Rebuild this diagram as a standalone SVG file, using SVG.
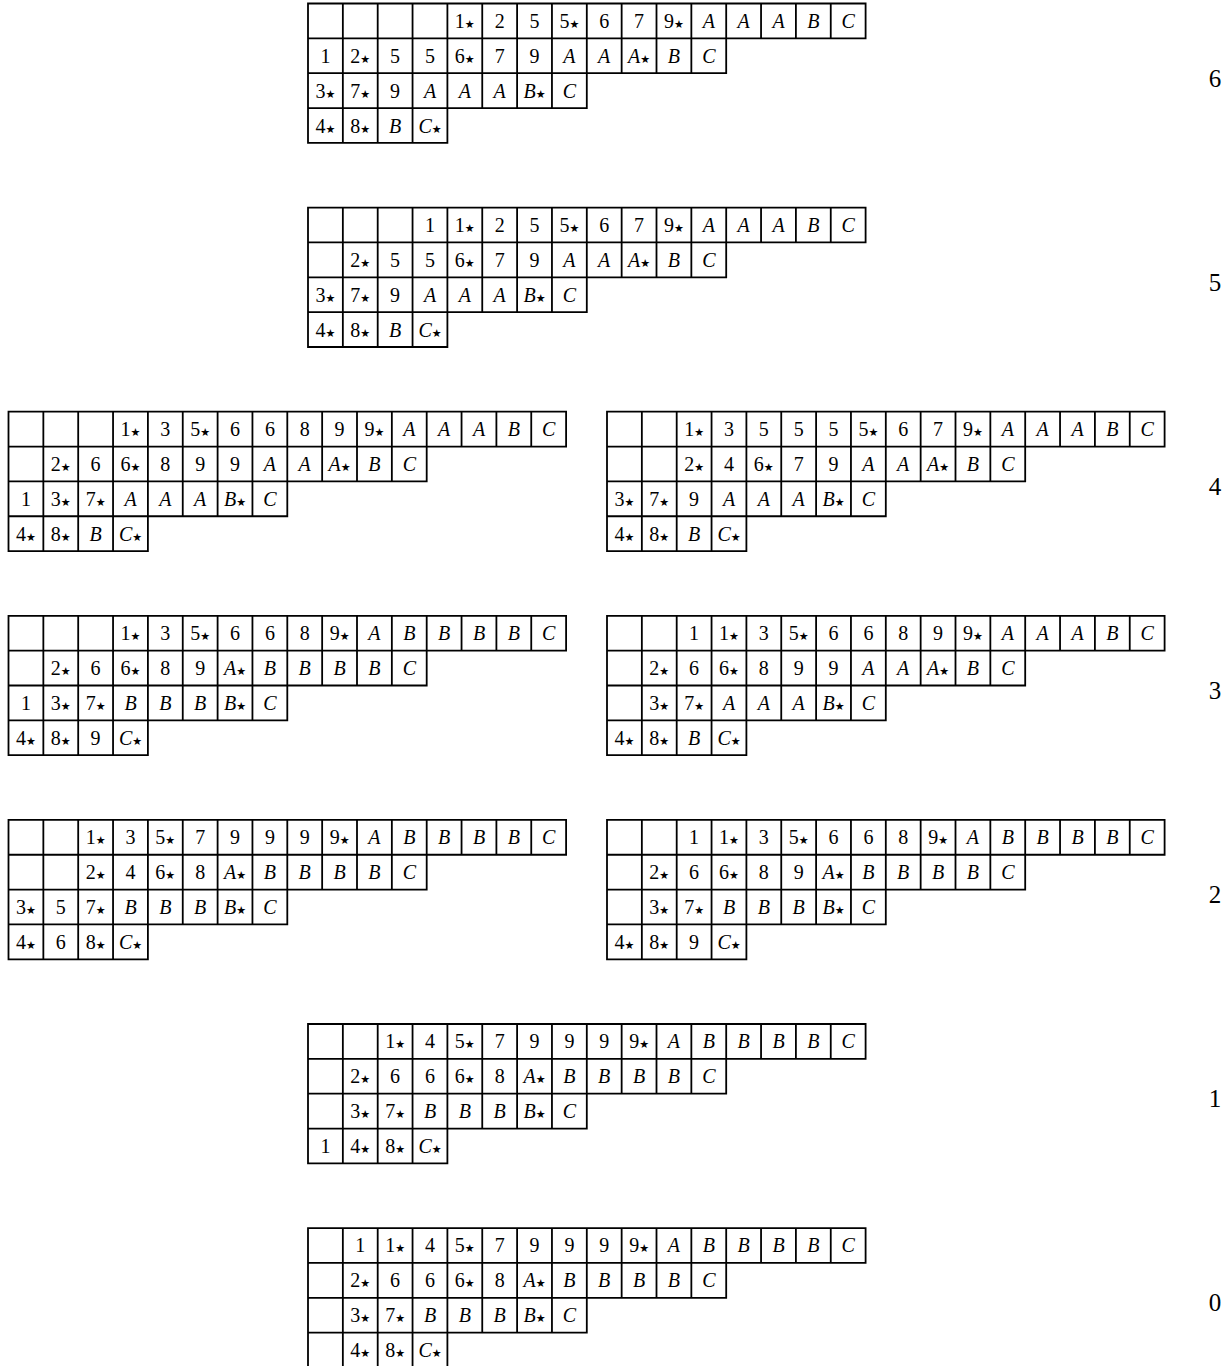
<svg xmlns="http://www.w3.org/2000/svg" xmlns:xlink="http://www.w3.org/1999/xlink" width="1232" height="1366" viewBox="0 0 1232 1366">
<style>
.g{fill:none;stroke:#000;stroke-width:1.8;stroke-linecap:square}
text{font-family:"Liberation Serif","DejaVu Serif",serif;font-size:20px;text-anchor:middle;fill:#000}
.i{font-style:italic}
.s{font-family:"DejaVu Sans",sans-serif;font-size:11px;font-style:normal}
.lab{font-size:25px}
</style>
<defs>
<path id="grid" class="g" d="M0,0H557.6M0,34.85H557.6M0,69.7H418.2M0,104.55H278.8M0,139.4H139.4M0,0V139.4M34.85,0V139.4M69.7,0V139.4M104.55,0V139.4M139.4,0V139.4M174.25,0V104.55M209.1,0V104.55M243.95,0V104.55M278.8,0V104.55M313.65,0V69.7M348.5,0V69.7M383.35,0V69.7M418.2,0V69.7M453.05,0V34.85M487.9,0V34.85M522.75,0V34.85M557.6,0V34.85"/>
</defs>
<rect width="1232" height="1366" fill="#fff"/>
<g id="connectors"></g>

<g id="t6" transform="translate(308,3.5)">
<use xlink:href="#grid"/>
<text x="156.8" y="24.4">1<tspan class="s">★</tspan></text><text x="191.7" y="24.4">2</text><text x="226.5" y="24.4">5</text><text x="261.4" y="24.4">5<tspan class="s">★</tspan></text><text x="296.2" y="24.4">6</text><text x="331.1" y="24.4">7</text><text x="365.9" y="24.4">9<tspan class="s">★</tspan></text><text class="i" x="400.8" y="24.4">A</text><text class="i" x="435.6" y="24.4">A</text><text class="i" x="470.5" y="24.4">A</text><text class="i" x="505.3" y="24.4">B</text><text class="i" x="540.2" y="24.4">C</text>
<text x="17.4" y="59.3">1</text><text x="52.3" y="59.3">2<tspan class="s">★</tspan></text><text x="87.1" y="59.3">5</text><text x="122" y="59.3">5</text><text x="156.8" y="59.3">6<tspan class="s">★</tspan></text><text x="191.7" y="59.3">7</text><text x="226.5" y="59.3">9</text><text class="i" x="261.4" y="59.3">A</text><text class="i" x="296.2" y="59.3">A</text><text class="i" x="331.1" y="59.3">A<tspan class="s">★</tspan></text><text class="i" x="365.9" y="59.3">B</text><text class="i" x="400.8" y="59.3">C</text>
<text x="17.4" y="94.1">3<tspan class="s">★</tspan></text><text x="52.3" y="94.1">7<tspan class="s">★</tspan></text><text x="87.1" y="94.1">9</text><text class="i" x="122" y="94.1">A</text><text class="i" x="156.8" y="94.1">A</text><text class="i" x="191.7" y="94.1">A</text><text class="i" x="226.5" y="94.1">B<tspan class="s">★</tspan></text><text class="i" x="261.4" y="94.1">C</text>
<text x="17.4" y="129">4<tspan class="s">★</tspan></text><text x="52.3" y="129">8<tspan class="s">★</tspan></text><text class="i" x="87.1" y="129">B</text><text class="i" x="122" y="129">C<tspan class="s">★</tspan></text>
</g>
<text class="lab" x="1215" y="86.5">6</text>

<g id="t5" transform="translate(308,207.6)">
<use xlink:href="#grid"/>
<text x="122" y="24.4">1</text><text x="156.8" y="24.4">1<tspan class="s">★</tspan></text><text x="191.7" y="24.4">2</text><text x="226.5" y="24.4">5</text><text x="261.4" y="24.4">5<tspan class="s">★</tspan></text><text x="296.2" y="24.4">6</text><text x="331.1" y="24.4">7</text><text x="365.9" y="24.4">9<tspan class="s">★</tspan></text><text class="i" x="400.8" y="24.4">A</text><text class="i" x="435.6" y="24.4">A</text><text class="i" x="470.5" y="24.4">A</text><text class="i" x="505.3" y="24.4">B</text><text class="i" x="540.2" y="24.4">C</text>
<text x="52.3" y="59.3">2<tspan class="s">★</tspan></text><text x="87.1" y="59.3">5</text><text x="122" y="59.3">5</text><text x="156.8" y="59.3">6<tspan class="s">★</tspan></text><text x="191.7" y="59.3">7</text><text x="226.5" y="59.3">9</text><text class="i" x="261.4" y="59.3">A</text><text class="i" x="296.2" y="59.3">A</text><text class="i" x="331.1" y="59.3">A<tspan class="s">★</tspan></text><text class="i" x="365.9" y="59.3">B</text><text class="i" x="400.8" y="59.3">C</text>
<text x="17.4" y="94.1">3<tspan class="s">★</tspan></text><text x="52.3" y="94.1">7<tspan class="s">★</tspan></text><text x="87.1" y="94.1">9</text><text class="i" x="122" y="94.1">A</text><text class="i" x="156.8" y="94.1">A</text><text class="i" x="191.7" y="94.1">A</text><text class="i" x="226.5" y="94.1">B<tspan class="s">★</tspan></text><text class="i" x="261.4" y="94.1">C</text>
<text x="17.4" y="129">4<tspan class="s">★</tspan></text><text x="52.3" y="129">8<tspan class="s">★</tspan></text><text class="i" x="87.1" y="129">B</text><text class="i" x="122" y="129">C<tspan class="s">★</tspan></text>
</g>
<text class="lab" x="1215" y="290.6">5</text>

<g id="t4a" transform="translate(8.5,411.7)">
<use xlink:href="#grid"/>
<text x="122" y="24.4">1<tspan class="s">★</tspan></text><text x="156.8" y="24.4">3</text><text x="191.7" y="24.4">5<tspan class="s">★</tspan></text><text x="226.5" y="24.4">6</text><text x="261.4" y="24.4">6</text><text x="296.2" y="24.4">8</text><text x="331.1" y="24.4">9</text><text x="365.9" y="24.4">9<tspan class="s">★</tspan></text><text class="i" x="400.8" y="24.4">A</text><text class="i" x="435.6" y="24.4">A</text><text class="i" x="470.5" y="24.4">A</text><text class="i" x="505.3" y="24.4">B</text><text class="i" x="540.2" y="24.4">C</text>
<text x="52.3" y="59.3">2<tspan class="s">★</tspan></text><text x="87.1" y="59.3">6</text><text x="122" y="59.3">6<tspan class="s">★</tspan></text><text x="156.8" y="59.3">8</text><text x="191.7" y="59.3">9</text><text x="226.5" y="59.3">9</text><text class="i" x="261.4" y="59.3">A</text><text class="i" x="296.2" y="59.3">A</text><text class="i" x="331.1" y="59.3">A<tspan class="s">★</tspan></text><text class="i" x="365.9" y="59.3">B</text><text class="i" x="400.8" y="59.3">C</text>
<text x="17.4" y="94.1">1</text><text x="52.3" y="94.1">3<tspan class="s">★</tspan></text><text x="87.1" y="94.1">7<tspan class="s">★</tspan></text><text class="i" x="122" y="94.1">A</text><text class="i" x="156.8" y="94.1">A</text><text class="i" x="191.7" y="94.1">A</text><text class="i" x="226.5" y="94.1">B<tspan class="s">★</tspan></text><text class="i" x="261.4" y="94.1">C</text>
<text x="17.4" y="129">4<tspan class="s">★</tspan></text><text x="52.3" y="129">8<tspan class="s">★</tspan></text><text class="i" x="87.1" y="129">B</text><text class="i" x="122" y="129">C<tspan class="s">★</tspan></text>
</g>

<g id="t4b" transform="translate(607,411.7)">
<use xlink:href="#grid"/>
<text x="87.1" y="24.4">1<tspan class="s">★</tspan></text><text x="122" y="24.4">3</text><text x="156.8" y="24.4">5</text><text x="191.7" y="24.4">5</text><text x="226.5" y="24.4">5</text><text x="261.4" y="24.4">5<tspan class="s">★</tspan></text><text x="296.2" y="24.4">6</text><text x="331.1" y="24.4">7</text><text x="365.9" y="24.4">9<tspan class="s">★</tspan></text><text class="i" x="400.8" y="24.4">A</text><text class="i" x="435.6" y="24.4">A</text><text class="i" x="470.5" y="24.4">A</text><text class="i" x="505.3" y="24.4">B</text><text class="i" x="540.2" y="24.4">C</text>
<text x="87.1" y="59.3">2<tspan class="s">★</tspan></text><text x="122" y="59.3">4</text><text x="156.8" y="59.3">6<tspan class="s">★</tspan></text><text x="191.7" y="59.3">7</text><text x="226.5" y="59.3">9</text><text class="i" x="261.4" y="59.3">A</text><text class="i" x="296.2" y="59.3">A</text><text class="i" x="331.1" y="59.3">A<tspan class="s">★</tspan></text><text class="i" x="365.9" y="59.3">B</text><text class="i" x="400.8" y="59.3">C</text>
<text x="17.4" y="94.1">3<tspan class="s">★</tspan></text><text x="52.3" y="94.1">7<tspan class="s">★</tspan></text><text x="87.1" y="94.1">9</text><text class="i" x="122" y="94.1">A</text><text class="i" x="156.8" y="94.1">A</text><text class="i" x="191.7" y="94.1">A</text><text class="i" x="226.5" y="94.1">B<tspan class="s">★</tspan></text><text class="i" x="261.4" y="94.1">C</text>
<text x="17.4" y="129">4<tspan class="s">★</tspan></text><text x="52.3" y="129">8<tspan class="s">★</tspan></text><text class="i" x="87.1" y="129">B</text><text class="i" x="122" y="129">C<tspan class="s">★</tspan></text>
</g>
<text class="lab" x="1215" y="494.7">4</text>

<g id="t3a" transform="translate(8.5,615.8)">
<use xlink:href="#grid"/>
<text x="122" y="24.4">1<tspan class="s">★</tspan></text><text x="156.8" y="24.4">3</text><text x="191.7" y="24.4">5<tspan class="s">★</tspan></text><text x="226.5" y="24.4">6</text><text x="261.4" y="24.4">6</text><text x="296.2" y="24.4">8</text><text x="331.1" y="24.4">9<tspan class="s">★</tspan></text><text class="i" x="365.9" y="24.4">A</text><text class="i" x="400.8" y="24.4">B</text><text class="i" x="435.6" y="24.4">B</text><text class="i" x="470.5" y="24.4">B</text><text class="i" x="505.3" y="24.4">B</text><text class="i" x="540.2" y="24.4">C</text>
<text x="52.3" y="59.3">2<tspan class="s">★</tspan></text><text x="87.1" y="59.3">6</text><text x="122" y="59.3">6<tspan class="s">★</tspan></text><text x="156.8" y="59.3">8</text><text x="191.7" y="59.3">9</text><text class="i" x="226.5" y="59.3">A<tspan class="s">★</tspan></text><text class="i" x="261.4" y="59.3">B</text><text class="i" x="296.2" y="59.3">B</text><text class="i" x="331.1" y="59.3">B</text><text class="i" x="365.9" y="59.3">B</text><text class="i" x="400.8" y="59.3">C</text>
<text x="17.4" y="94.1">1</text><text x="52.3" y="94.1">3<tspan class="s">★</tspan></text><text x="87.1" y="94.1">7<tspan class="s">★</tspan></text><text class="i" x="122" y="94.1">B</text><text class="i" x="156.8" y="94.1">B</text><text class="i" x="191.7" y="94.1">B</text><text class="i" x="226.5" y="94.1">B<tspan class="s">★</tspan></text><text class="i" x="261.4" y="94.1">C</text>
<text x="17.4" y="129">4<tspan class="s">★</tspan></text><text x="52.3" y="129">8<tspan class="s">★</tspan></text><text x="87.1" y="129">9</text><text class="i" x="122" y="129">C<tspan class="s">★</tspan></text>
</g>

<g id="t3b" transform="translate(607,615.8)">
<use xlink:href="#grid"/>
<text x="87.1" y="24.4">1</text><text x="122" y="24.4">1<tspan class="s">★</tspan></text><text x="156.8" y="24.4">3</text><text x="191.7" y="24.4">5<tspan class="s">★</tspan></text><text x="226.5" y="24.4">6</text><text x="261.4" y="24.4">6</text><text x="296.2" y="24.4">8</text><text x="331.1" y="24.4">9</text><text x="365.9" y="24.4">9<tspan class="s">★</tspan></text><text class="i" x="400.8" y="24.4">A</text><text class="i" x="435.6" y="24.4">A</text><text class="i" x="470.5" y="24.4">A</text><text class="i" x="505.3" y="24.4">B</text><text class="i" x="540.2" y="24.4">C</text>
<text x="52.3" y="59.3">2<tspan class="s">★</tspan></text><text x="87.1" y="59.3">6</text><text x="122" y="59.3">6<tspan class="s">★</tspan></text><text x="156.8" y="59.3">8</text><text x="191.7" y="59.3">9</text><text x="226.5" y="59.3">9</text><text class="i" x="261.4" y="59.3">A</text><text class="i" x="296.2" y="59.3">A</text><text class="i" x="331.1" y="59.3">A<tspan class="s">★</tspan></text><text class="i" x="365.9" y="59.3">B</text><text class="i" x="400.8" y="59.3">C</text>
<text x="52.3" y="94.1">3<tspan class="s">★</tspan></text><text x="87.1" y="94.1">7<tspan class="s">★</tspan></text><text class="i" x="122" y="94.1">A</text><text class="i" x="156.8" y="94.1">A</text><text class="i" x="191.7" y="94.1">A</text><text class="i" x="226.5" y="94.1">B<tspan class="s">★</tspan></text><text class="i" x="261.4" y="94.1">C</text>
<text x="17.4" y="129">4<tspan class="s">★</tspan></text><text x="52.3" y="129">8<tspan class="s">★</tspan></text><text class="i" x="87.1" y="129">B</text><text class="i" x="122" y="129">C<tspan class="s">★</tspan></text>
</g>
<text class="lab" x="1215" y="698.8">3</text>

<g id="t2a" transform="translate(8.5,819.9)">
<use xlink:href="#grid"/>
<text x="87.1" y="24.4">1<tspan class="s">★</tspan></text><text x="122" y="24.4">3</text><text x="156.8" y="24.4">5<tspan class="s">★</tspan></text><text x="191.7" y="24.4">7</text><text x="226.5" y="24.4">9</text><text x="261.4" y="24.4">9</text><text x="296.2" y="24.4">9</text><text x="331.1" y="24.4">9<tspan class="s">★</tspan></text><text class="i" x="365.9" y="24.4">A</text><text class="i" x="400.8" y="24.4">B</text><text class="i" x="435.6" y="24.4">B</text><text class="i" x="470.5" y="24.4">B</text><text class="i" x="505.3" y="24.4">B</text><text class="i" x="540.2" y="24.4">C</text>
<text x="87.1" y="59.3">2<tspan class="s">★</tspan></text><text x="122" y="59.3">4</text><text x="156.8" y="59.3">6<tspan class="s">★</tspan></text><text x="191.7" y="59.3">8</text><text class="i" x="226.5" y="59.3">A<tspan class="s">★</tspan></text><text class="i" x="261.4" y="59.3">B</text><text class="i" x="296.2" y="59.3">B</text><text class="i" x="331.1" y="59.3">B</text><text class="i" x="365.9" y="59.3">B</text><text class="i" x="400.8" y="59.3">C</text>
<text x="17.4" y="94.1">3<tspan class="s">★</tspan></text><text x="52.3" y="94.1">5</text><text x="87.1" y="94.1">7<tspan class="s">★</tspan></text><text class="i" x="122" y="94.1">B</text><text class="i" x="156.8" y="94.1">B</text><text class="i" x="191.7" y="94.1">B</text><text class="i" x="226.5" y="94.1">B<tspan class="s">★</tspan></text><text class="i" x="261.4" y="94.1">C</text>
<text x="17.4" y="129">4<tspan class="s">★</tspan></text><text x="52.3" y="129">6</text><text x="87.1" y="129">8<tspan class="s">★</tspan></text><text class="i" x="122" y="129">C<tspan class="s">★</tspan></text>
</g>

<g id="t2b" transform="translate(607,819.9)">
<use xlink:href="#grid"/>
<text x="87.1" y="24.4">1</text><text x="122" y="24.4">1<tspan class="s">★</tspan></text><text x="156.8" y="24.4">3</text><text x="191.7" y="24.4">5<tspan class="s">★</tspan></text><text x="226.5" y="24.4">6</text><text x="261.4" y="24.4">6</text><text x="296.2" y="24.4">8</text><text x="331.1" y="24.4">9<tspan class="s">★</tspan></text><text class="i" x="365.9" y="24.4">A</text><text class="i" x="400.8" y="24.4">B</text><text class="i" x="435.6" y="24.4">B</text><text class="i" x="470.5" y="24.4">B</text><text class="i" x="505.3" y="24.4">B</text><text class="i" x="540.2" y="24.4">C</text>
<text x="52.3" y="59.3">2<tspan class="s">★</tspan></text><text x="87.1" y="59.3">6</text><text x="122" y="59.3">6<tspan class="s">★</tspan></text><text x="156.8" y="59.3">8</text><text x="191.7" y="59.3">9</text><text class="i" x="226.5" y="59.3">A<tspan class="s">★</tspan></text><text class="i" x="261.4" y="59.3">B</text><text class="i" x="296.2" y="59.3">B</text><text class="i" x="331.1" y="59.3">B</text><text class="i" x="365.9" y="59.3">B</text><text class="i" x="400.8" y="59.3">C</text>
<text x="52.3" y="94.1">3<tspan class="s">★</tspan></text><text x="87.1" y="94.1">7<tspan class="s">★</tspan></text><text class="i" x="122" y="94.1">B</text><text class="i" x="156.8" y="94.1">B</text><text class="i" x="191.7" y="94.1">B</text><text class="i" x="226.5" y="94.1">B<tspan class="s">★</tspan></text><text class="i" x="261.4" y="94.1">C</text>
<text x="17.4" y="129">4<tspan class="s">★</tspan></text><text x="52.3" y="129">8<tspan class="s">★</tspan></text><text x="87.1" y="129">9</text><text class="i" x="122" y="129">C<tspan class="s">★</tspan></text>
</g>
<text class="lab" x="1215" y="902.9">2</text>

<g id="t1" transform="translate(308,1024)">
<use xlink:href="#grid"/>
<text x="87.1" y="24.4">1<tspan class="s">★</tspan></text><text x="122" y="24.4">4</text><text x="156.8" y="24.4">5<tspan class="s">★</tspan></text><text x="191.7" y="24.4">7</text><text x="226.5" y="24.4">9</text><text x="261.4" y="24.4">9</text><text x="296.2" y="24.4">9</text><text x="331.1" y="24.4">9<tspan class="s">★</tspan></text><text class="i" x="365.9" y="24.4">A</text><text class="i" x="400.8" y="24.4">B</text><text class="i" x="435.6" y="24.4">B</text><text class="i" x="470.5" y="24.4">B</text><text class="i" x="505.3" y="24.4">B</text><text class="i" x="540.2" y="24.4">C</text>
<text x="52.3" y="59.3">2<tspan class="s">★</tspan></text><text x="87.1" y="59.3">6</text><text x="122" y="59.3">6</text><text x="156.8" y="59.3">6<tspan class="s">★</tspan></text><text x="191.7" y="59.3">8</text><text class="i" x="226.5" y="59.3">A<tspan class="s">★</tspan></text><text class="i" x="261.4" y="59.3">B</text><text class="i" x="296.2" y="59.3">B</text><text class="i" x="331.1" y="59.3">B</text><text class="i" x="365.9" y="59.3">B</text><text class="i" x="400.8" y="59.3">C</text>
<text x="52.3" y="94.1">3<tspan class="s">★</tspan></text><text x="87.1" y="94.1">7<tspan class="s">★</tspan></text><text class="i" x="122" y="94.1">B</text><text class="i" x="156.8" y="94.1">B</text><text class="i" x="191.7" y="94.1">B</text><text class="i" x="226.5" y="94.1">B<tspan class="s">★</tspan></text><text class="i" x="261.4" y="94.1">C</text>
<text x="17.4" y="129">1</text><text x="52.3" y="129">4<tspan class="s">★</tspan></text><text x="87.1" y="129">8<tspan class="s">★</tspan></text><text class="i" x="122" y="129">C<tspan class="s">★</tspan></text>
</g>
<text class="lab" x="1215" y="1107">1</text>

<g id="t0" transform="translate(308,1228.1)">
<use xlink:href="#grid"/>
<text x="52.3" y="24.4">1</text><text x="87.1" y="24.4">1<tspan class="s">★</tspan></text><text x="122" y="24.4">4</text><text x="156.8" y="24.4">5<tspan class="s">★</tspan></text><text x="191.7" y="24.4">7</text><text x="226.5" y="24.4">9</text><text x="261.4" y="24.4">9</text><text x="296.2" y="24.4">9</text><text x="331.1" y="24.4">9<tspan class="s">★</tspan></text><text class="i" x="365.9" y="24.4">A</text><text class="i" x="400.8" y="24.4">B</text><text class="i" x="435.6" y="24.4">B</text><text class="i" x="470.5" y="24.4">B</text><text class="i" x="505.3" y="24.4">B</text><text class="i" x="540.2" y="24.4">C</text>
<text x="52.3" y="59.3">2<tspan class="s">★</tspan></text><text x="87.1" y="59.3">6</text><text x="122" y="59.3">6</text><text x="156.8" y="59.3">6<tspan class="s">★</tspan></text><text x="191.7" y="59.3">8</text><text class="i" x="226.5" y="59.3">A<tspan class="s">★</tspan></text><text class="i" x="261.4" y="59.3">B</text><text class="i" x="296.2" y="59.3">B</text><text class="i" x="331.1" y="59.3">B</text><text class="i" x="365.9" y="59.3">B</text><text class="i" x="400.8" y="59.3">C</text>
<text x="52.3" y="94.1">3<tspan class="s">★</tspan></text><text x="87.1" y="94.1">7<tspan class="s">★</tspan></text><text class="i" x="122" y="94.1">B</text><text class="i" x="156.8" y="94.1">B</text><text class="i" x="191.7" y="94.1">B</text><text class="i" x="226.5" y="94.1">B<tspan class="s">★</tspan></text><text class="i" x="261.4" y="94.1">C</text>
<text x="52.3" y="129">4<tspan class="s">★</tspan></text><text x="87.1" y="129">8<tspan class="s">★</tspan></text><text class="i" x="122" y="129">C<tspan class="s">★</tspan></text>
</g>
<text class="lab" x="1215" y="1311.1">0</text>
</svg>
